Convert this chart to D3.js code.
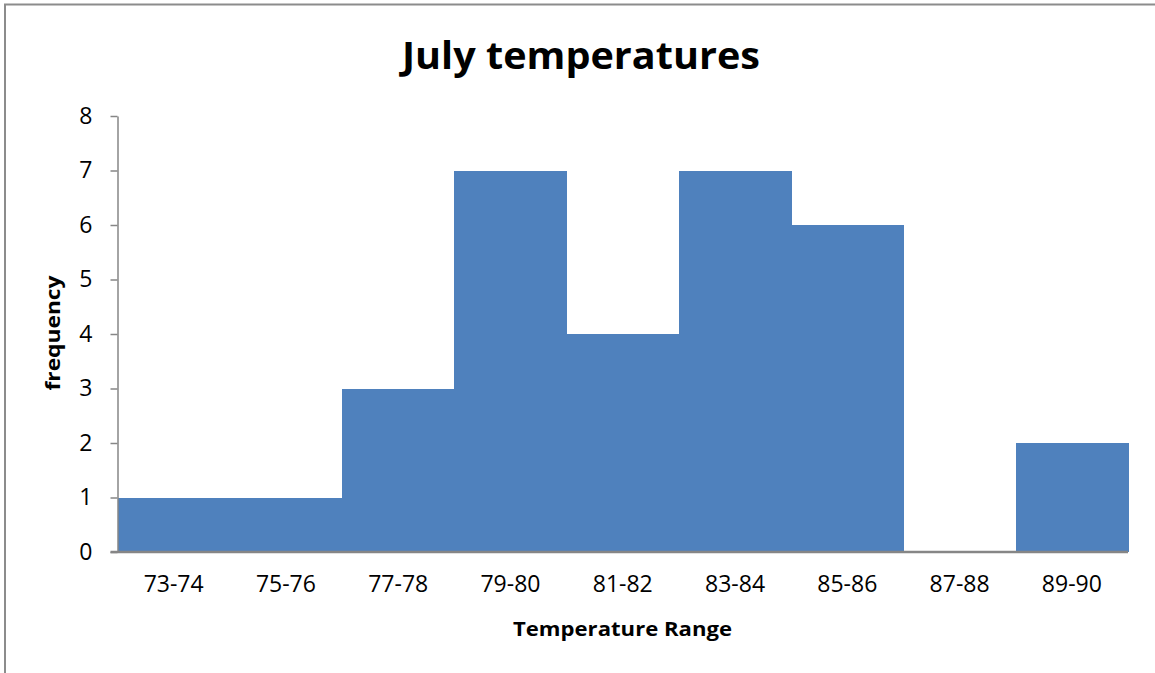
<!DOCTYPE html>
<html>
<head>
<meta charset="utf-8">
<script src="https://cdn.jsdelivr.net/npm/d3@7"></script>
<style>
  html, body { margin: 0; padding: 0; background: #fff; }
  svg { display: block; }
</style>
</head>
<body>
<svg id="chart" width="1155" height="673"></svg>
<script>
// Temperature bins and how many July days fell into each
const categories = ["73-74", "75-76", "77-78", "79-80", "81-82", "83-84", "85-86", "87-88", "89-90"];
const frequency = [1, 1, 3, 7, 4, 7, 6, 0, 2];
const yTicks = [0, 1, 2, 3, 4, 5, 6, 7, 8];

const svg = d3.select("#chart");
const font = "'Open Sans', 'DejaVu Sans', sans-serif";
const axisColor = "#868686";

// chart frame
svg.append("rect")
  .attr("x", 5).attr("y", 4.5)
  .attr("width", 1200).attr("height", 700)
  .attr("fill", "none")
  .attr("stroke", "#8c8c8c")
  .attr("stroke-width", 2);

const plot = { left: 117.5, right: 1128, top: 116, bottom: 552 };

const x = d3.scaleBand()
  .domain(categories)
  .range([plot.left, plot.right])
  .paddingInner(0).paddingOuter(0);

const y = d3.scaleLinear()
  .domain([0, 8])
  .range([plot.bottom, plot.top]);

// bars (histogram: no gaps)
svg.append("g")
  .attr("shape-rendering", "crispEdges")
  .selectAll("rect")
  .data(categories.map((c, i) => ({ c, v: frequency[i] })))
  .join("rect")
  .attr("x", d => x(d.c))
  .attr("y", d => y(d.v))
  .attr("width", x.bandwidth() + 0.6)
  .attr("height", d => y(0) - y(d.v))
  .attr("fill", "#4F81BD");

// y axis
const yAxis = svg.append("g")
  .attr("transform", `translate(${plot.left},0)`)
  .call(d3.axisLeft(y).tickValues(yTicks).tickFormat(d3.format("d")).tickSizeInner(7).tickSizeOuter(0).tickPadding(18));
yAxis.select(".domain").attr("stroke", axisColor).attr("stroke-width", 1.5);
yAxis.selectAll(".tick line").attr("stroke", axisColor).attr("stroke-width", 1.5);
yAxis.selectAll(".tick text")
  .attr("font-family", font).attr("font-size", 23).attr("fill", "#000");

// x axis
const xAxis = svg.append("g")
  .attr("transform", `translate(0,${plot.bottom})`)
  .call(d3.axisBottom(x).tickSize(0).tickPadding(24));
xAxis.select(".domain").remove();
xAxis.append("line")
  .attr("x1", plot.left - 7).attr("x2", plot.right)
  .attr("y1", 0).attr("y2", 0)
  .attr("stroke", axisColor).attr("stroke-width", 2.5);
xAxis.selectAll(".tick text")
  .attr("font-family", font).attr("font-size", 23).attr("fill", "#000");

// title
svg.append("text")
  .attr("x", 581).attr("y", 69)
  .attr("text-anchor", "middle")
  .attr("font-family", font).attr("font-weight", "bold").attr("font-size", 37)
  .attr("textLength", 358).attr("lengthAdjust", "spacingAndGlyphs")
  .text("July temperatures");

// axis titles
svg.append("text")
  .attr("x", 622.5).attr("y", 636)
  .attr("text-anchor", "middle")
  .attr("font-family", font).attr("font-weight", "bold").attr("font-size", 19)
  .attr("textLength", 219).attr("lengthAdjust", "spacingAndGlyphs")
  .text("Temperature Range");

svg.append("text")
  .attr("transform", "translate(60,333) rotate(-90)")
  .attr("text-anchor", "middle")
  .attr("font-family", font).attr("font-weight", "bold").attr("font-size", 19)
  .attr("textLength", 115).attr("lengthAdjust", "spacingAndGlyphs")
  .text("frequency");
</script>
</body>
</html>
